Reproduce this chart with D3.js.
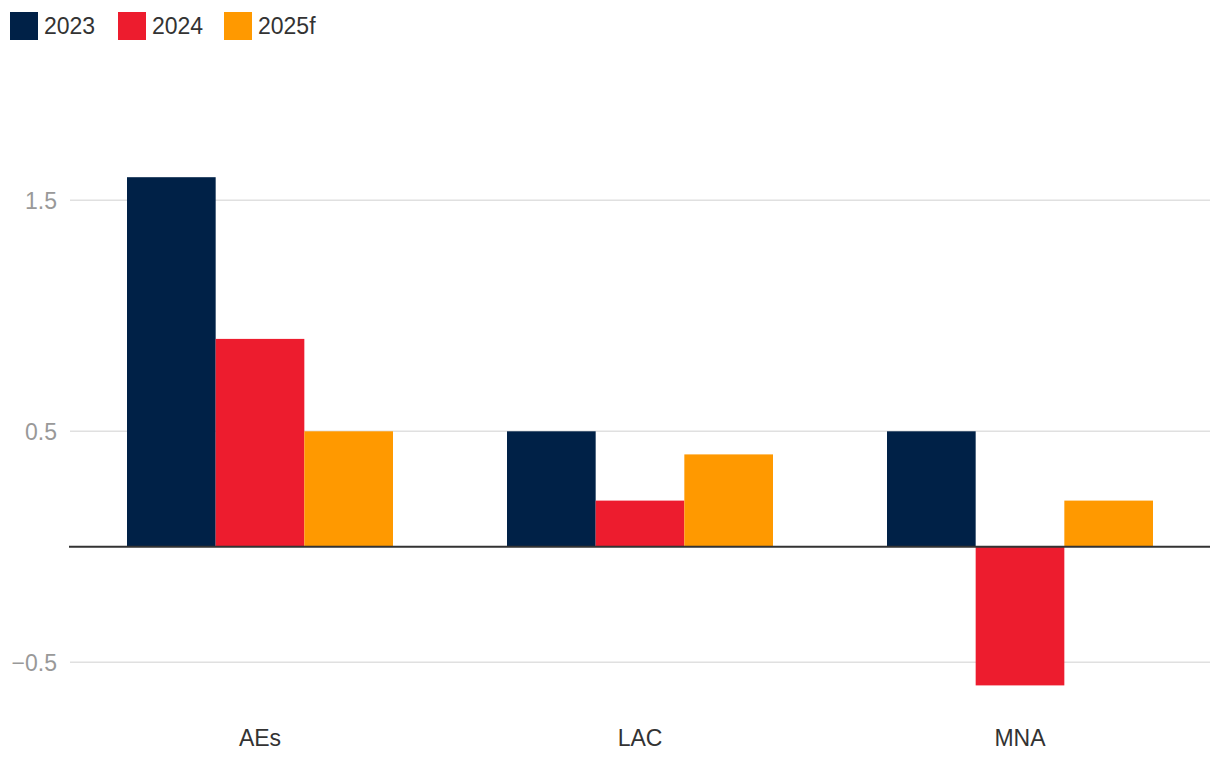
<!DOCTYPE html>
<html>
<head>
<meta charset="utf-8">
<script src="https://cdn.jsdelivr.net/npm/d3@7"></script>
<style>
  html, body { margin: 0; padding: 0; background: #fff; }
  svg { display: block; font-family: "Liberation Sans", Arial, Helvetica, sans-serif; }
</style>
</head>
<body>
<svg id="chart" width="1220" height="770"></svg>
<script>
const categories = ["AEs", "LAC", "MNA"];
const seriesNames = ["2023", "2024", "2025f"];
const values2023 = [1.6, 0.5, 0.5];
const values2024 = [0.9, 0.2, -0.6];
const values2025f = [0.5, 0.4, 0.2];
const yTicks = [1.5, 0.5, -0.5];
const colors = ["#002147", "#ed1c2e", "#ff9900"];

const seriesValues = [values2023, values2024, values2025f];

const svg = d3.select("#chart");
const left = 70, right = 1210;
const FS = 23;

const y = d3.scaleLinear().domain([-0.6, 1.6]).range([685.4, 177.2]);
const x0 = d3.scaleBand().domain(categories).range([left, right]).paddingInner(0.3).paddingOuter(0.15);
const x1 = d3.scaleBand().domain(seriesNames).range([0, x0.bandwidth()]).padding(0);

// gridlines + y tick labels
const yAxis = d3.axisLeft(y).tickValues(yTicks).tickSize(0).tickPadding(0)
  .tickFormat(d => d < 0 ? "\u2212" + Math.abs(d) : String(d));
const ya = svg.append("g").attr("transform", `translate(${left - 13},0)`).call(yAxis);
ya.select(".domain").remove();
ya.selectAll("text").attr("fill", "#999").attr("font-size", FS).attr("dy", "0.35em");

svg.append("g").selectAll("line").data(yTicks).join("line")
  .attr("x1", left).attr("x2", right)
  .attr("y1", d => y(d)).attr("y2", d => y(d))
  .attr("stroke", "#e0e0e0").attr("stroke-width", 1.5);

// bars
const groups = svg.append("g").selectAll("g").data(categories).join("g")
  .attr("transform", d => `translate(${x0(d)},0)`);
groups.selectAll("rect").data((c, ci) => seriesNames.map((s, si) => ({ s, si, v: seriesValues[si][ci] })))
  .join("rect")
  .attr("x", d => x1(d.s))
  .attr("width", x1.bandwidth())
  .attr("y", d => Math.min(y(d.v), y(0)))
  .attr("height", d => Math.abs(y(d.v) - y(0)))
  .attr("fill", d => colors[d.si]);

// zero line
svg.append("line").attr("x1", left - 1).attr("x2", right)
  .attr("y1", y(0)).attr("y2", y(0))
  .attr("stroke", "#333").attr("stroke-width", 2);

// x axis labels
const xAxis = d3.axisBottom(x0).tickSize(0).tickPadding(0);
const xa = svg.append("g").attr("transform", `translate(0,738)`).call(xAxis);
xa.select(".domain").remove();
xa.selectAll("text").attr("fill", "#333").attr("font-size", FS).attr("dy", "0.35em");

// legend
const legendX = [10, 118, 224];
const lg = svg.append("g").selectAll("g").data(seriesNames).join("g")
  .attr("transform", (d, i) => `translate(${legendX[i]},12)`);
lg.append("rect").attr("width", 28).attr("height", 28).attr("fill", (d, i) => colors[i]);
lg.append("text").attr("x", 34).attr("y", 14).attr("dy", "0.35em")
  .attr("font-size", FS).attr("fill", "#333").text(d => d);
</script>
</body>
</html>
